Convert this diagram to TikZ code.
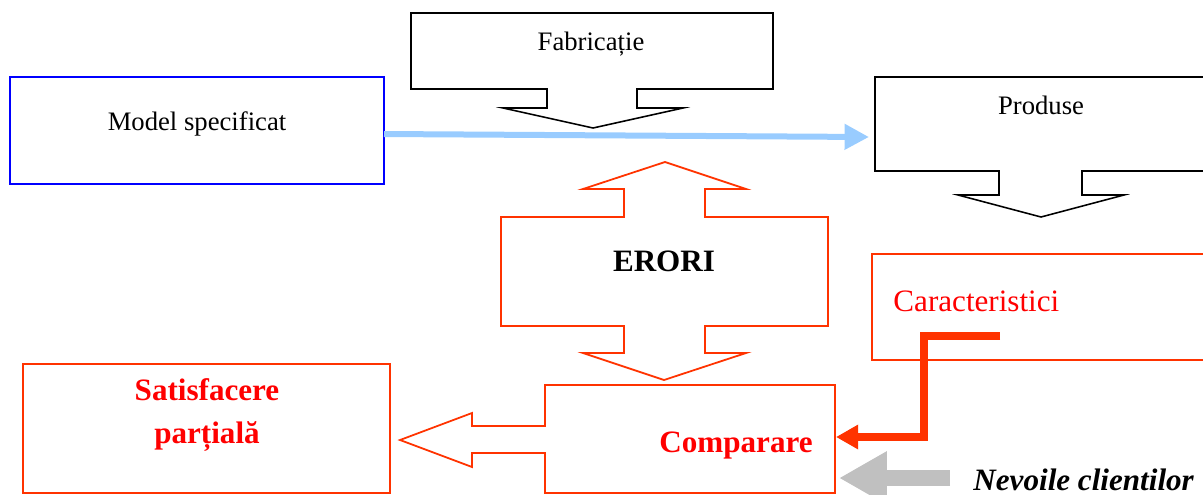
\documentclass[tikz,border=0pt]{standalone}
\usepackage{fontspec}
\setmainfont{Liberation Serif}
\usetikzlibrary{arrows.meta}
\definecolor{rosu}{RGB}{255,51,0}
\definecolor{albastru}{RGB}{153,204,255}
\definecolor{gri}{RGB}{192,192,192}
\tikzset{
  contur/.style={draw=rosu, line width=0.8pt},
  bloc/.style={draw=black, line width=0.7pt},
  txt/.style={anchor=base, inner sep=0pt, font=\fontsize{12}{14}\selectfont},
  txtmare/.style={anchor=base, inner sep=0pt, font=\fontsize{14}{17}\selectfont},
}
\begin{document}
\begin{tikzpicture}[x=0.45pt,y=-0.45pt]
  \clip (0,0) rectangle (1203,494);
  % model
  \draw[draw=blue, line width=0.9pt] (10,77) rectangle (384,184);
  \coordinate (model) at (384,134);
  \node[txt] (modeltxt) at (197,130) {Model specificat};
  % fabricatie
  \draw[bloc] (411,13) -- (773,13) -- (773,89) -- (637,89) -- (637,108) -- (683,108)
    -- (593,128) -- (503,108) -- (547,108) -- (547,89) -- (411,89) -- cycle;
  \node[txt] (fab) at (591,50) {Fabricație};
  % produse
  \draw[bloc] (875,77) -- (1215,77) -- (1215,171) -- (1082,171) -- (1082,195) -- (1124,195)
    -- (1041,217) -- (958,195) -- (999,195) -- (999,171) -- (875,171) -- cycle;
  \coordinate (prod) at (869,137);
  \node[txt] (prodtxt) at (1041,114) {Produse};
  % erori
  \draw[contur] (501,217) -- (624,217) -- (624,189) -- (583,189) -- (665,162) -- (746,189)
    -- (705,189) -- (705,217) -- (828,217) -- (828,326) -- (705,326) -- (705,353)
    -- (746,353) -- (664,380) -- (583,353) -- (624,353) -- (624,326) -- (501,326) -- cycle;
  \node[txtmare, font=\fontsize{14}{17}\selectfont\bfseries] (erori) at (664,271) {ERORI};
  % comparare
  \draw[contur] (545,385) -- (835,385) -- (835,493) -- (545,493) -- (545,453) -- (472,453)
    -- (472,467) -- (400,440) -- (472,413) -- (472,426) -- (545,426) -- cycle;
  \node[txtmare, text=red, font=\fontsize{14}{17}\selectfont\bfseries] (comp) at (736,452) {Comparare};
  \coordinate (compsus) at (836,437);
  \coordinate (compjos) at (839,478);
  % satisfacere
  \draw[contur] (23,364) rectangle (390,493);
  \node[txtmare, text=red, font=\fontsize{14}{17}\selectfont\bfseries, align=center] (satis) at (207,443)
    {Satisfacere\\[2pt]parțială};
  % caracteristici
  \draw[contur] (872,254) rectangle (1215,360);
  \node[txtmare, text=red, anchor=base west] (carac) at (893,311) {Caracteristici};
  \coordinate (caracout) at (1000,336);
  % nevoile clientilor
  \node[txtmare, anchor=base west, font=\fontsize{14}{17}\selectfont\bfseries\itshape] (nevoi) at (973,490) {Nevoile clientilor};
  \coordinate (nevoiout) at (950,478);
  % sageti
  \draw[albastru, line width=2.7pt, -{Triangle[length=11pt,width=11pt]}] (model) -- (prod);
  \draw[rosu, line width=3.2pt, -{Triangle[length=10pt,width=10.5pt]}] (caracout) -- (924,336) |- (compsus);
  \draw[gri, line width=7.5pt, -{Triangle[length=21.5pt,width=22.5pt]}] (nevoiout) -- (compjos);
\end{tikzpicture}
\end{document}
